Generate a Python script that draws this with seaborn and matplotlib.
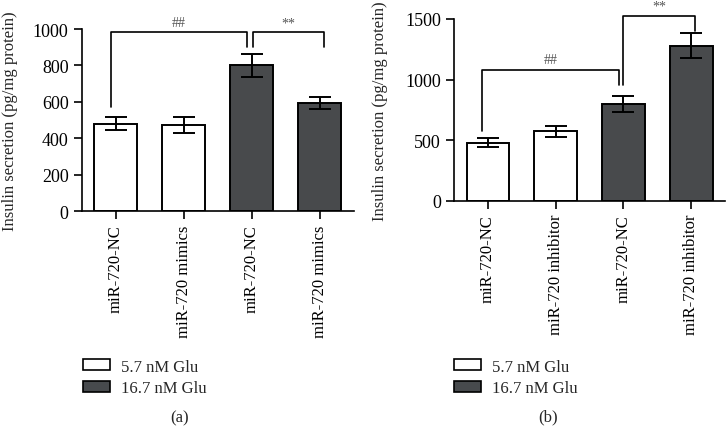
import matplotlib
matplotlib.use('Agg')
import matplotlib.pyplot as plt
import seaborn as sns
import pandas as pd
from matplotlib.patches import Patch

# values
groups = ['5.7 nM Glu', '5.7 nM Glu', '16.7 nM Glu', '16.7 nM Glu']
labels_a = ['miR-720-NC', 'miR-720 mimics', 'miR-720-NC', 'miR-720 mimics']
means_a = [480, 472, 800, 593]
errs_a = [37, 45, 65, 35]
labels_b = ['miR-720-NC', 'miR-720 inhibitor', 'miR-720-NC', 'miR-720 inhibitor']
means_b = [480, 575, 798, 1280]
errs_b = [40, 45, 65, 103]

# brackets: (x1, x2, top, left bottom, right bottom, text)
brackets_a = [(-0.07, 1.93, 983, 571, 901, '##'), (2.02, 3.06, 983, 901, 901, '**')]
brackets_b = [(-0.09, 1.93, 1079, 575, 955, '##'), (2.0, 3.06, 1525, 955, 1401, '**')]

dark = '#474a4d'
palette = {'5.7 nM Glu': 'white', '16.7 nM Glu': dark}

sns.set_style('ticks')
plt.rcParams['font.family'] = ['Liberation Serif', 'DejaVu Serif']

fig = plt.figure(figsize=(7.27, 4.27), dpi=100)
ax_a = fig.add_axes([0.1125, 0.5035, 0.374, 0.4262])
ax_b = fig.add_axes([0.6245, 0.5276, 0.373, 0.4256])


def draw(ax, labels, means, errs, brackets, ymax, yticks, txt_off):
    df = pd.DataFrame({'pos': [0, 1, 2, 3], 'val': means, 'grp': groups})
    sns.barplot(data=df, x='pos', y='val', hue='grp', palette=palette,
                dodge=False, width=0.63, edgecolor='black', linewidth=1.4,
                errorbar=None, legend=False, ax=ax)
    ax.errorbar(df['pos'], df['val'], yerr=errs, fmt='none', ecolor='black',
                elinewidth=1.4, capsize=8, capthick=1.4, zorder=5)
    for x1, x2, top, b1, b2, t in brackets:
        ax.plot([x1, x1, x2, x2], [b1, top, top, b2], color='black',
                lw=1.2, clip_on=False)
        ax.text((x1 + x2) / 2, top + txt_off, t, ha='center', va='bottom',
                fontsize=10, color='#555555', clip_on=False)
    ax.set_xlim(-0.5, 3.5)
    ax.set_ylim(0, ymax)
    ax.set_yticks(yticks)
    ax.set_xticks([0, 1, 2, 3])
    ax.set_xticklabels(labels, rotation=90, fontsize=12)
    ax.tick_params(axis='y', labelsize=13)
    ax.tick_params(direction='out', length=6, width=1.2, colors='black')
    ax.set_xlabel('')
    ax.set_ylabel('Insulin secretion (pg/mg protein)', fontsize=12)
    for s in ['top', 'right']:
        ax.spines[s].set_visible(False)
    for s in ['left', 'bottom']:
        ax.spines[s].set_linewidth(1.2)
        ax.spines[s].set_color('black')


draw(ax_a, labels_a, means_a, errs_a, brackets_a, 1000, [0, 200, 400, 600, 800, 1000], 15)
draw(ax_b, labels_b, means_b, errs_b, brackets_b, 1500, [0, 500, 1000, 1500], 30)
ax_a.yaxis.set_label_coords(-0.235, 0.5)
ax_b.yaxis.set_label_coords(-0.244, 0.5)

handles = [Patch(facecolor='white', edgecolor='black', linewidth=1.2, label='5.7 nM Glu'),
           Patch(facecolor=dark, edgecolor='black', linewidth=1.2, label='16.7 nM Glu')]
for xa in [0.114, 0.6245]:
    fig.legend(handles=handles, loc='upper left', bbox_to_anchor=(xa, 0.158),
               frameon=False, fontsize=12, handlelength=1.6, handleheight=0.6,
               handletextpad=0.7, labelspacing=0.35, borderpad=0, borderaxespad=0)

fig.text(180 / 727, 1 - 418 / 427, '(a)', ha='center', va='center', fontsize=12)
fig.text(548 / 727, 1 - 417 / 427, '(b)', ha='center', va='center', fontsize=12)

fig.savefig('out.png', dpi=100)
